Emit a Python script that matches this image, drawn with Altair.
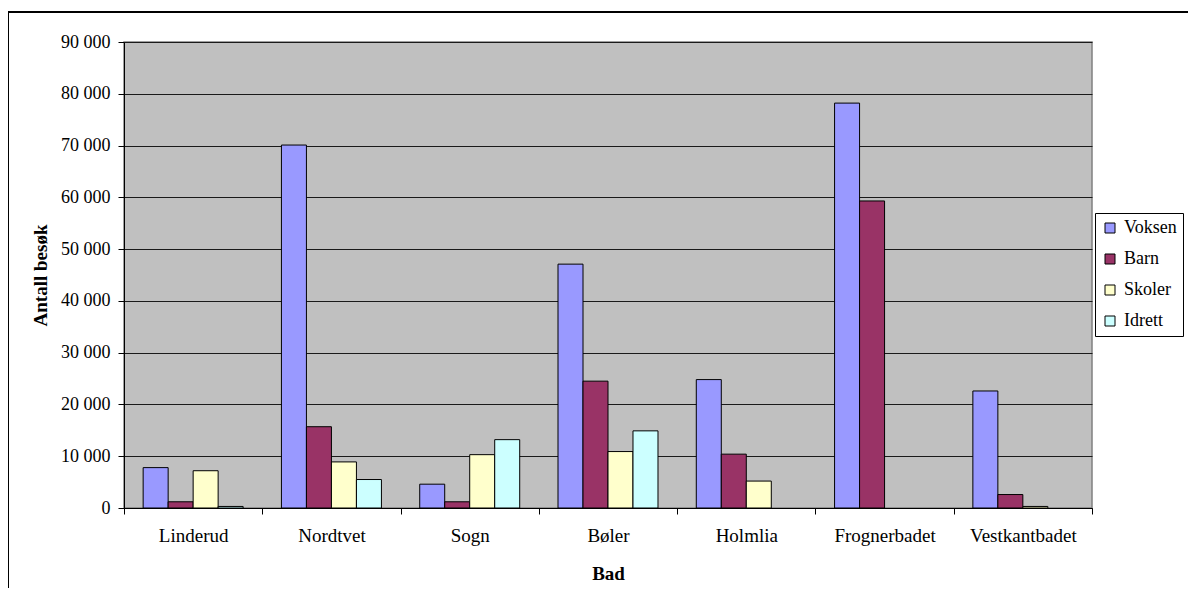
import altair as alt
import pandas as pd

bad = ["Linderud", "Nordtvet", "Sogn", "Bøler", "Holmlia", "Frognerbadet", "Vestkantbadet"]
series = ["Voksen", "Barn", "Skoler", "Idrett"]
voksen = [7800, 70100, 4600, 47100, 24800, 78200, 22600]
barn = [1200, 15700, 1200, 24500, 10400, 59300, 2600]
skoler = [7200, 8900, 10300, 10900, 5200, 0, 300]
idrett = [300, 5500, 13200, 14900, 0, 0, 0]
colors = ["#9999FF", "#993366", "#FFFFCC", "#CCFFFF"]
y_ticks = [0, 10000, 20000, 30000, 40000, 50000, 60000, 70000, 80000, 90000]

rows = []
for name, vals in zip(series, [voksen, barn, skoler, idrett]):
    for b, v in zip(bad, vals):
        rows.append({"Bad": b, "Gruppe": name, "Antall": v})
df = pd.DataFrame(rows)

FONT = "Liberation Serif, Times New Roman, serif"

bars = alt.Chart(df).transform_filter("datum.Antall > 0").mark_bar(
    stroke="black", strokeWidth=1
).encode(
    x=alt.X("Bad:N", sort=bad,
            scale=alt.Scale(paddingInner=0, paddingOuter=0),
            axis=alt.Axis(title="Bad", labelAngle=0, tickBand="extent",
                          labelFont=FONT, titleFont=FONT,
                          labelFontSize=19, labelPadding=12, tickSize=6,
                          tickColor="black", domainColor="black",
                          titleFontSize=19, titleFontWeight="bold",
                          titleY=65, titleBaseline="middle", grid=False)),
    xOffset=alt.XOffset("Gruppe:N", sort=series,
                        scale=alt.Scale(domain=series, paddingInner=0, paddingOuter=0.766)),
    y=alt.Y("Antall:Q",
            scale=alt.Scale(domain=[0, 90000], nice=False),
            axis=alt.Axis(title="Antall besøk", values=y_ticks,
                          labelExpr="replace(format(datum.value, ','), ',', ' ')",
                          labelFont=FONT, titleFont=FONT,
                          labelFontSize=18, labelPadding=8, tickSize=6,
                          tickColor="black", domainColor="black",
                          gridColor="#1a1a1a", gridWidth=1,
                          titleFontSize=19, titleFontWeight="bold",
                          titleX=-84, titleY=233, titleBaseline="middle")),
    color=alt.Color("Gruppe:N", sort=series,
                    scale=alt.Scale(domain=series, range=colors),
                    legend=alt.Legend(title=None, orient="none", legendX=971, legendY=171,
                                      strokeColor="black", padding=6,
                                      symbolType="square", symbolSize=100,
                                      symbolStrokeColor="black", symbolStrokeWidth=1,
                                      labelFont=FONT, labelColor="black",
                                      labelFontSize=18, rowPadding=13, labelOffset=5,
                                      fillColor="white")),
)

frame = alt.Chart(df).mark_rect(fill=None, stroke="black", strokeWidth=1).encode(
    x=alt.value(-115.5), x2=alt.value(1100), y=alt.value(-30), y2=alt.value(600)
)

chart = alt.layer(frame, bars).properties(
    width=968, height=466,
    padding={"left": 116, "top": 34, "right": 96, "bottom": 80},
    autosize=alt.AutoSizeParams(type="none"),
).configure(font=FONT).configure_view(
    fill="#C0C0C0", stroke="#808080", strokeWidth=1.5
).configure_axis(labelFont=FONT, titleFont=FONT, labelColor="black", titleColor="black"
).configure_legend(labelFont=FONT, labelColor="black")

chart.save("out.html", embed_options={"renderer": "svg", "actions": False})
